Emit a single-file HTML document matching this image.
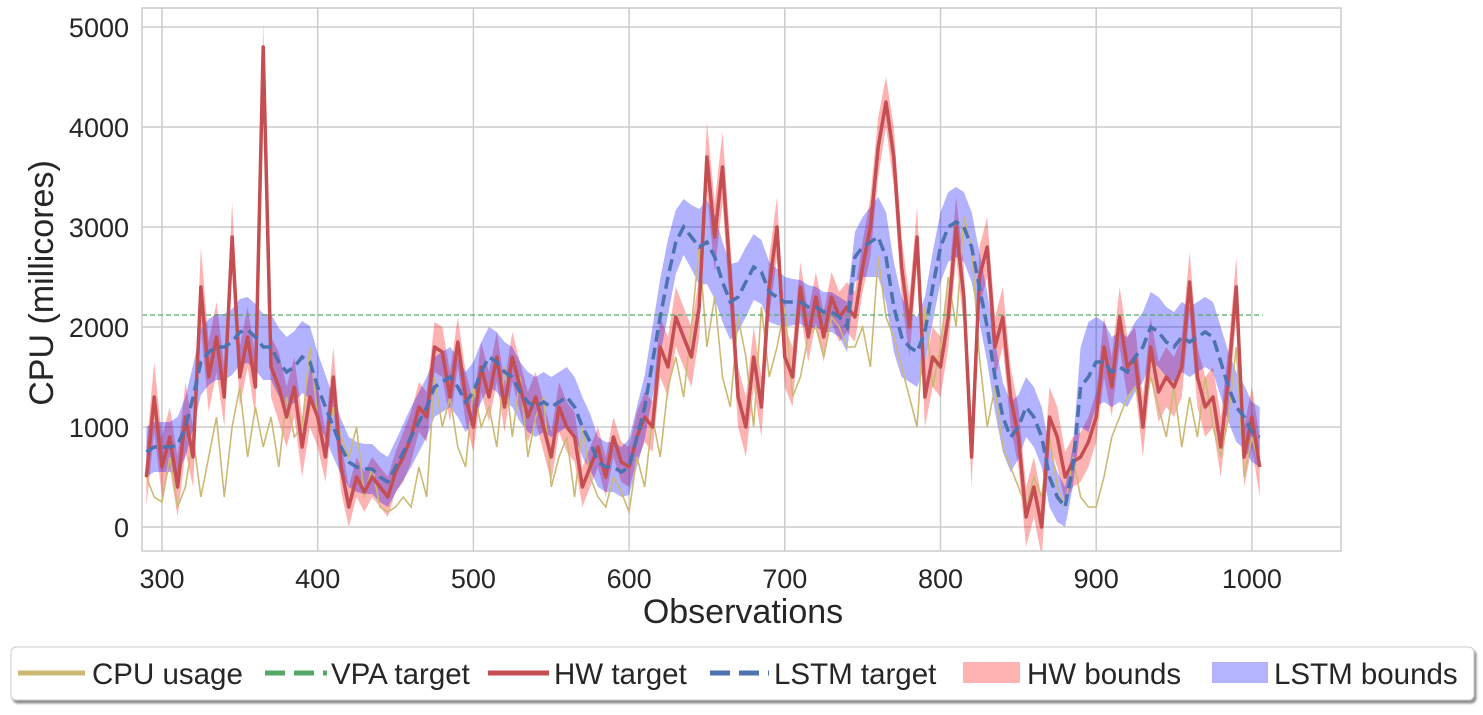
<!DOCTYPE html>
<html><head><meta charset="utf-8">
<style>
body{margin:0;background:#fff;font-family:"Liberation Sans",sans-serif;}
svg text{font-family:"Liberation Sans",sans-serif;fill:#262626;}
</style></head>
<body>
<svg id="chart" width="1483" height="710">
<defs><filter id="sh" x="-5%" y="-20%" width="110%" height="150%"><feDropShadow dx="2" dy="3" stdDeviation="1" flood-color="#000" flood-opacity="0.45"/></filter>
<clipPath id="clip"><rect x="142" y="8" width="1199" height="543"/></clipPath></defs>
<g id="grid"></g>
<g id="series" clip-path="url(#clip)"></g>
<rect x="142" y="8" width="1199" height="543" fill="none" stroke="#cccccc" stroke-width="1.5"/>
<g id="ticks"></g>
<text x="743" y="623" font-size="34" text-anchor="middle">Observations</text>
<text transform="translate(53,283) rotate(-90)" font-size="34" text-anchor="middle">CPU (millicores)</text>
<g>
<rect x="11" y="647" width="1463" height="53" rx="5" fill="#fff" stroke="#cccccc" filter="url(#sh)"/>
<g><line x1="18" y1="673" x2="85" y2="673" stroke="#ccb974" stroke-width="5"/><text x="92" y="684" font-size="29.5">CPU usage</text></g>
<g><line x1="265" y1="673" x2="327" y2="673" stroke="#55a868" stroke-width="5" stroke-dasharray="20,9"/><text x="331" y="684" font-size="29.5">VPA target</text></g>
<g><line x1="488" y1="673" x2="549" y2="673" stroke="#c44e52" stroke-width="5"/><text x="554" y="684" font-size="29.5">HW target</text></g>
<g><line x1="710" y1="673" x2="769" y2="673" stroke="#4c72b0" stroke-width="5" stroke-dasharray="20,9"/><text x="774" y="684" font-size="29.5">LSTM target</text></g>
<g><rect x="963" y="662" width="57" height="21" fill="#ffb3b3"/><text x="1027" y="684" font-size="29.5">HW bounds</text></g>
<g><rect x="1212" y="662" width="56" height="21" fill="#b3b3ff"/><text x="1274" y="684" font-size="29.5">LSTM bounds</text></g>
</g>
</svg>
<script>
const xStart = 290, xStep = 5;
const xTicks = [300,400,500,600,700,800,900,1000];
const yTicks = [0,1000,2000,3000,4000,5000];
const vpaTarget = 2120;
const vpaEnd = 1007;
const lstmTarget = [750,800,800,800,820,1000,1300,1650,1750,1800,1800,1850,1950,1970,1900,1800,1800,1650,1550,1600,1700,1650,1400,1200,1000,800,650,600,580,580,500,450,600,750,900,1050,1200,1400,1450,1500,1400,1250,1350,1550,1700,1650,1550,1500,1350,1250,1200,1250,1200,1250,1300,1200,1000,850,650,600,600,550,600,900,1200,1650,2100,2500,2850,3000,2900,2800,2850,2700,2450,2250,2300,2450,2600,2550,2350,2300,2250,2250,2250,2200,2200,2150,2150,2100,2000,2700,2800,2850,2900,2700,2200,1900,1800,1750,1950,2400,2800,3000,3050,3000,2800,2400,2000,1500,1100,900,1000,1200,1100,900,500,300,200,600,1400,1500,1650,1650,1550,1600,1550,1700,1800,2000,1950,1850,1800,1900,1850,1900,1950,1900,1650,1400,1200,1100,950,900];
const lstmSpread = [250,250,250,250,280,300,320,330,330,330,330,330,330,330,330,330,330,340,350,360,360,360,340,320,300,280,250,250,250,250,250,250,260,280,300,300,300,300,300,300,300,300,300,300,300,300,300,300,300,300,300,300,300,300,300,300,300,280,250,250,250,250,280,300,320,350,380,380,320,280,320,380,420,420,400,380,350,350,330,320,300,280,250,230,220,220,200,200,200,200,250,250,300,350,400,450,450,400,350,350,350,350,350,350,350,350,350,350,350,350,350,350,320,300,300,300,300,250,200,200,400,550,450,400,350,350,350,350,350,350,350,350,350,350,350,350,350,350,350,350,350,320,300,300];
const hwTarget = [500,1300,600,900,400,1100,700,2400,1500,1900,1300,2900,1500,1900,1400,4800,1600,1400,1100,1400,800,1300,1100,700,1500,600,200,500,350,500,400,300,550,700,900,1200,1100,1800,1750,1300,1850,1300,1000,1600,1300,1700,1200,1700,1400,1100,1300,1000,700,1200,1000,900,400,600,800,500,900,650,600,900,1100,1000,1800,1600,2100,1900,1700,2200,3700,2900,3600,2500,1300,1000,1700,1200,2400,3000,1700,1500,2400,1900,2300,1900,2300,2100,2200,2100,2600,3000,3800,4250,3700,2600,2000,2900,1300,1700,1600,2100,3000,2300,700,2500,2800,1800,2100,1300,900,100,400,0,1100,900,500,650,700,850,1100,1800,1400,2100,1600,1700,1000,1800,1350,1500,1400,1600,2450,1500,1200,1300,800,1500,2400,700,1100,600];
const hwSpread = [300,350,300,300,300,350,300,400,350,350,300,350,300,300,300,250,300,350,300,300,300,300,300,250,300,250,200,200,200,200,200,200,200,250,250,250,250,250,250,250,250,250,250,250,250,250,250,250,250,250,250,250,250,250,250,250,200,200,200,200,200,200,200,250,250,250,300,300,300,300,300,300,350,350,350,350,300,300,300,300,300,300,300,300,250,250,250,250,250,250,250,250,250,300,300,250,300,300,300,300,300,300,300,300,300,300,300,300,300,300,300,300,300,300,300,300,300,300,250,250,250,250,250,300,300,300,300,300,300,300,300,300,300,300,300,300,300,300,300,300,300,300,300,300];
const cpuUsage = [500,300,250,700,200,400,900,300,700,1100,300,1000,1400,700,1200,800,1100,600,1300,900,1000,1800,1100,700,1200,900,700,1000,300,600,200,150,200,300,200,600,300,1500,1000,1300,800,600,1400,1000,1200,800,1600,900,1500,700,1100,1300,400,700,900,300,1000,500,300,200,500,350,150,700,400,1100,700,1400,1700,1300,2000,2800,1800,2300,1500,1200,2100,1700,1000,2200,1500,1800,2200,1300,1500,1900,2000,1700,2100,2000,1800,1800,2000,1600,2700,2100,1900,1600,1300,1000,2200,1400,1800,2500,2000,3100,2800,1700,1000,1400,800,600,400,200,500,300,900,400,200,700,300,200,200,500,900,1100,1300,1400,1100,1500,1200,900,1400,800,1300,900,1500,1000,700,1100,1800,500,900,600];

const X0=162, XS=1.557, Y0=527, YS=0.1;
const xs=v=>X0+(v-300)*XS, ys=v=>Y0-v*YS;
const NS="http://www.w3.org/2000/svg";
function mk(tag,attrs,parent){const e=document.createElementNS(NS,tag);for(const k in attrs)e.setAttribute(k,attrs[k]);parent.appendChild(e);return e;}
const grid=document.getElementById('grid'), ticks=document.getElementById('ticks'), ser=document.getElementById('series');
xTicks.forEach(t=>{
  const l=mk('line',{x1:xs(t),x2:xs(t),y1:8,y2:551,stroke:'#cccccc','stroke-width':1.5},grid);
  
  
  const tx=mk('text',{x:xs(t),y:588,'font-size':27,'text-anchor':'middle'},ticks);tx.textContent=t;
  
  
});
yTicks.forEach(t=>{
  const l=mk('line',{x1:142,x2:1341,y1:ys(t),y2:ys(t),stroke:'#cccccc','stroke-width':1.5},grid);
  
  
  const tx=mk('text',{x:129,y:ys(t)+10,'font-size':27,'text-anchor':'end'},ticks);tx.textContent=t;
  
  
});
function linePts(arr){return arr.map((v,i)=>xs(xStart+i*xStep).toFixed(1)+','+ys(v).toFixed(1)).join(' ');}
function band(mid,sp){const up=mid.map((v,i)=>xs(xStart+i*xStep).toFixed(1)+','+ys(v+sp[i]).toFixed(1));
 const lo=mid.map((v,i)=>xs(xStart+i*xStep).toFixed(1)+','+ys(v-sp[i]).toFixed(1)).reverse();return up.concat(lo).join(' ');}
const hb=mk('polygon',{points:band(hwTarget,hwSpread),fill:'#ff0000','fill-opacity':0.3,stroke:'none'},ser);


const lb=mk('polygon',{points:band(lstmTarget,lstmSpread),fill:'#0000ff','fill-opacity':0.3,stroke:'none'},ser);


const cl=mk('polyline',{points:linePts(cpuUsage),fill:'none',stroke:'#ccb974','stroke-width':1.6},ser);


const vl=mk('line',{x1:142,x2:xs(vpaEnd),y1:ys(vpaTarget),y2:ys(vpaTarget),stroke:'#55a868','stroke-width':1.2,'stroke-dasharray':'5,3'},ser);


const hl=mk('polyline',{points:linePts(hwTarget),fill:'none',stroke:'#c44e52','stroke-width':3.5,'stroke-linejoin':'round'},ser);


const ll=mk('polyline',{points:linePts(lstmTarget),fill:'none',stroke:'#4c72b0','stroke-width':3.5,'stroke-dasharray':'12,6'},ser);


</script>
</body></html>
